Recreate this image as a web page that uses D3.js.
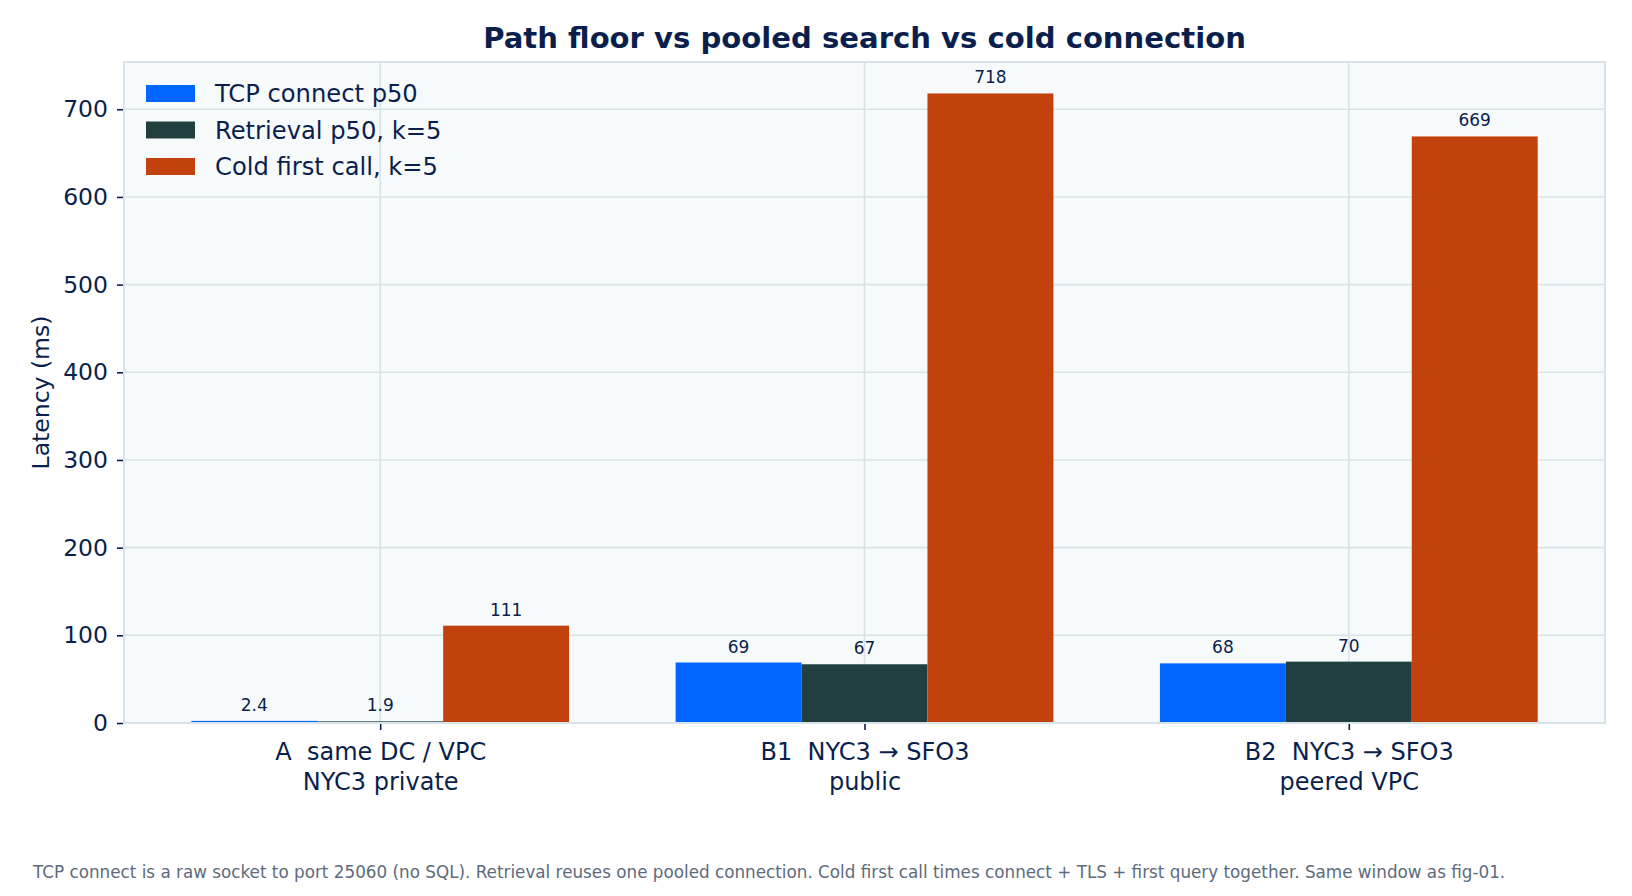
<!DOCTYPE html>
<html>
<head>
<meta charset="utf-8">
<script src="https://cdn.jsdelivr.net/npm/d3@7"></script>
<style>
  body { margin: 0; background: #fff; }
  svg { display: block; font-family: "DejaVu Sans", sans-serif; }
  svg text { white-space: pre; }
</style>
</head>
<body>
<svg id="chart"></svg>
<script>
// chart data
const categories = [
  ["A  same DC / VPC", "NYC3 private"],
  ["B1  NYC3 \u2192 SFO3", "public"],
  ["B2  NYC3 \u2192 SFO3", "peered VPC"],
];
const seriesNames = ["TCP connect p50", "Retrieval p50, k=5", "Cold first call, k=5"];
const tcpConnect = [2.4, 69, 68];
const retrieval = [1.9, 67, 70];
const coldFirst = [111, 718, 669];
const yTicks = [0, 100, 200, 300, 400, 500, 600, 700];
const footnote = "TCP connect is a raw socket to port 25060 (no SQL). Retrieval reuses one pooled connection. Cold first call times connect + TLS + first query together. Same window as fig-01.";

const colors = ["#0066ff", "#213f3e", "#c2410c"];
const ink = "#0b1f4d";
const gridColor = "#d8e3e9";

const width = 1632, height = 896;
const margin = { top: 62, right: 27, bottom: 173, left: 124 };

const svg = d3.select("#chart").attr("width", width).attr("height", height);

const series = [tcpConnect, retrieval, coldFirst];
const barW = 0.26;
const yMax = d3.max(series.flat()) * 1.05;

const x = d3.scaleLinear()
  .domain([-1.5 * barW - 0.05 * (2 + 3 * barW), 2 + 1.5 * barW + 0.05 * (2 + 3 * barW)])
  .range([margin.left, width - margin.right]);
const y = d3.scaleLinear()
  .domain([0, yMax])
  .range([height - margin.bottom, margin.top]);

// plot background
svg.append("rect")
  .attr("x", margin.left).attr("y", margin.top)
  .attr("width", width - margin.left - margin.right)
  .attr("height", height - margin.top - margin.bottom)
  .attr("fill", "#f6fafb");

// grid
svg.append("g").selectAll("line").data(yTicks.slice(1)).join("line")
  .attr("x1", margin.left).attr("x2", width - margin.right)
  .attr("y1", d => y(d)).attr("y2", d => y(d))
  .attr("stroke", gridColor).attr("stroke-width", 1.6);
svg.append("g").selectAll("line").data(categories).join("line")
  .attr("x1", (d, i) => x(i)).attr("x2", (d, i) => x(i))
  .attr("y1", margin.top).attr("y2", height - margin.bottom)
  .attr("stroke", gridColor).attr("stroke-width", 1.6);

// bars
series.forEach((vals, s) => {
  const off = (s - 1) * barW;
  svg.append("g").selectAll("rect").data(vals).join("rect")
    .attr("x", (d, i) => x(i + off - barW / 2))
    .attr("width", x(barW) - x(0))
    .attr("y", d => y(d))
    .attr("height", d => y(0) - y(d))
    .attr("fill", colors[s]);
  svg.append("g").selectAll("text").data(vals).join("text")
    .attr("x", (d, i) => x(i + off))
    .attr("y", d => y(d) - 10)
    .attr("text-anchor", "middle")
    .attr("font-size", 17)
    .attr("fill", ink)
    .text(d => d < 10 ? d3.format(".1f")(d) : d3.format("d")(d));
});

// frame
svg.append("rect")
  .attr("x", margin.left).attr("y", margin.top)
  .attr("width", width - margin.left - margin.right)
  .attr("height", height - margin.top - margin.bottom)
  .attr("fill", "none").attr("stroke", gridColor).attr("stroke-width", 2);

// y axis
const yAxis = svg.append("g")
  .attr("transform", `translate(${margin.left - 1},0)`)
  .call(d3.axisLeft(y).tickValues(yTicks).tickSize(6).tickPadding(9));
yAxis.select(".domain").remove();
yAxis.selectAll(".tick line").attr("stroke", ink).attr("stroke-width", 1.6);
yAxis.selectAll(".tick text")
  .attr("font-size", 23.5).attr("fill", ink)
  .attr("font-family", "DejaVu Sans");

// x axis
const xAxis = svg.append("g")
  .attr("transform", `translate(0,${height - margin.bottom + 1})`)
  .call(d3.axisBottom(x).tickValues([0, 1, 2]).tickSize(6).tickFormat(""));
xAxis.select(".domain").remove();
xAxis.selectAll(".tick line").attr("stroke", ink).attr("stroke-width", 1.6);
xAxis.selectAll(".tick").each(function (d) {
  const t = d3.select(this).append("text")
    .attr("text-anchor", "middle")
    .attr("font-size", 24)
    .attr("fill", ink)
    .attr("font-family", "DejaVu Sans");
  categories[d].forEach((line, k) => {
    t.append("tspan").attr("x", 0).attr("y", 36 + k * 30).text(line);
  });
});

// y label
svg.append("text")
  .attr("transform", `translate(48.5,${(margin.top + height - margin.bottom) / 2}) rotate(-90)`)
  .attr("text-anchor", "middle")
  .attr("font-size", 23.5)
  .attr("fill", ink)
  .text("Latency (ms)");

// title
svg.append("text")
  .attr("x", (margin.left + width - margin.right) / 2)
  .attr("y", 48)
  .attr("text-anchor", "middle")
  .attr("font-size", 29.1)
  .attr("font-weight", "bold")
  .attr("fill", ink)
  .text("Path floor vs pooled search vs cold connection");

// legend
const legend = svg.append("g").attr("transform", "translate(146,85)");
seriesNames.forEach((name, i) => {
  legend.append("rect")
    .attr("x", 0).attr("y", i * 36.5)
    .attr("width", 49).attr("height", 17)
    .attr("fill", colors[i]);
  legend.append("text")
    .attr("x", 69).attr("y", i * 36.5 + 17)
    .attr("font-size", 24.2)
    .attr("fill", ink)
    .text(name);
});

// footnote
svg.append("text")
  .attr("x", 33)
  .attr("y", 878)
  .attr("font-size", 16.8)
  .attr("fill", "#5d6b7c")
  .text(footnote);
</script>
</body>
</html>
